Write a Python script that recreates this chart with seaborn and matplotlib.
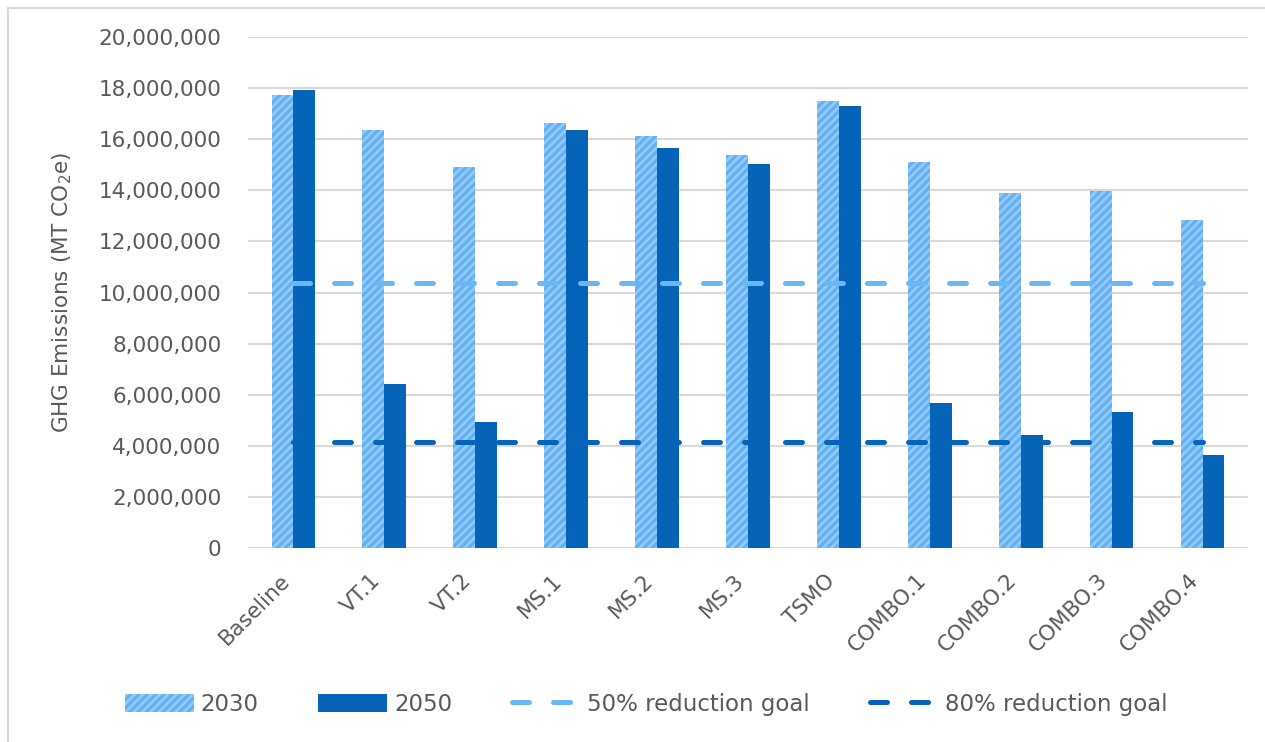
import matplotlib
matplotlib.use("Agg")
import matplotlib.pyplot as plt
import matplotlib.transforms as mtransforms
from matplotlib.lines import Line2D
from matplotlib.patches import Patch
from matplotlib.ticker import FuncFormatter
import seaborn as sns
import pandas as pd
import numpy as np

# Scenario emissions (MT CO2e)
scenarios = ["Baseline", "VT.1", "VT.2", "MS.1", "MS.2", "MS.3", "TSMO",
             "COMBO.1", "COMBO.2", "COMBO.3", "COMBO.4"]
emissions_2030 = [17750000, 16380000, 14920000, 16650000, 16120000, 15400000,
                  17500000, 15100000, 13880000, 13970000, 12830000]
emissions_2050 = [17930000, 6400000, 4940000, 16360000, 15640000, 15040000,
                  17320000, 5680000, 4440000, 5310000, 3640000]
goal_50 = [10370000] * len(scenarios)
goal_80 = [4150000] * len(scenarios)
years = ["2030", "2050"]

LIGHT = "#91C9F7"
STRIPE = "#62B0F3"
DARK = "#0563B8"
GOAL50 = "#6AB7F6"
GRID = "#D9D9D9"
TEXT = "#595959"

df = pd.DataFrame({
    "Scenario": scenarios * 2,
    "Year": [years[0]] * len(scenarios) + [years[1]] * len(scenarios),
    "Emissions": emissions_2030 + emissions_2050,
})

sns.set_theme(style="white")
plt.rcParams["font.family"] = ["DejaVu Sans"]
plt.rcParams["hatch.linewidth"] = 2.2

fig = plt.figure(figsize=(12.65, 7.42), dpi=100)
ax = fig.add_axes([0.196, 0.2615, 0.7906, 0.6885])

sns.barplot(data=df, x="Scenario", y="Emissions", hue="Year",
            palette={years[0]: LIGHT, years[1]: DARK}, width=0.48,
            saturation=1, legend=False, ax=ax, zorder=2)

# striped fill for the 2030 bars
n = len(scenarios)
for bar in ax.patches[:n]:
    bar.set_facecolor(LIGHT)
    bar.set_edgecolor(STRIPE)
    bar.set_hatch("////")
    bar.set_linewidth(0)
for bar in ax.patches[n:2 * n]:
    bar.set_linewidth(0)

DASH = (0, (3.4, 4.8))
xpos = np.arange(n)
sns.lineplot(x=xpos, y=goal_50, ax=ax, color=GOAL50, linewidth=3.6,
             zorder=4)
sns.lineplot(x=xpos, y=goal_80, ax=ax, color=DARK, linewidth=3.6,
             zorder=4)
for ln in ax.lines[-2:]:
    ln.set_linestyle(DASH)
    ln.set_dash_capstyle("round")

ax.set_ylim(0, 20000000)
ax.set_xlim(-0.5, n - 0.5)
ax.set_yticks(np.arange(0, 20000001, 2000000))
ax.yaxis.set_major_formatter(FuncFormatter(lambda v, p: f"{int(v):,}"))
ax.grid(axis="y", color=GRID, linewidth=1.5, zorder=0)
ax.set_axisbelow(True)
for s in ax.spines.values():
    s.set_visible(False)
ax.tick_params(axis="both", length=0, colors=TEXT, labelsize=15.5)
ax.tick_params(axis="y", pad=19)
ax.set_xlabel("")
ax.set_ylabel(r"GHG Emissions (MT CO$_2$e)", fontsize=15.5, color=TEXT,
              labelpad=18)
ax.tick_params(axis="x", pad=16)
shift = mtransforms.ScaledTranslation(-14 / 100, 0, fig.dpi_scale_trans)
for lbl in ax.get_xticklabels():
    lbl.set_rotation(45)
    lbl.set_ha("right")
    lbl.set_rotation_mode("anchor")
    lbl.set_transform(lbl.get_transform() + shift)

handles = [
    Patch(facecolor=LIGHT, edgecolor=STRIPE, hatch="////", linewidth=0),
    Patch(facecolor=DARK, edgecolor=DARK, linewidth=0),
    Line2D([], [], color=GOAL50, linewidth=3.6, linestyle=DASH,
           dash_capstyle="round"),
    Line2D([], [], color=DARK, linewidth=3.6, linestyle=DASH,
           dash_capstyle="round"),
]
labels = ["2030", "2050", "50% reduction goal", "80% reduction goal"]
leg = fig.legend(handles, labels, loc="center", ncol=4,
                 bbox_to_anchor=(0.511, 0.051), frameon=False,
                 fontsize=16.5, handlelength=3.0, handleheight=0.85,
                 columnspacing=2.6, handletextpad=0.3)
for t in leg.get_texts():
    t.set_color(TEXT)

# chart-area border (top and left edges)
fig.add_artist(Line2D([8 / 1265, 1], [1 - 8 / 742, 1 - 8 / 742],
                      transform=fig.transFigure, color=GRID, linewidth=1.5))
fig.add_artist(Line2D([8 / 1265, 8 / 1265], [0, 1 - 8 / 742],
                      transform=fig.transFigure, color=GRID, linewidth=1.5))

fig.savefig("out.png", dpi=100)
